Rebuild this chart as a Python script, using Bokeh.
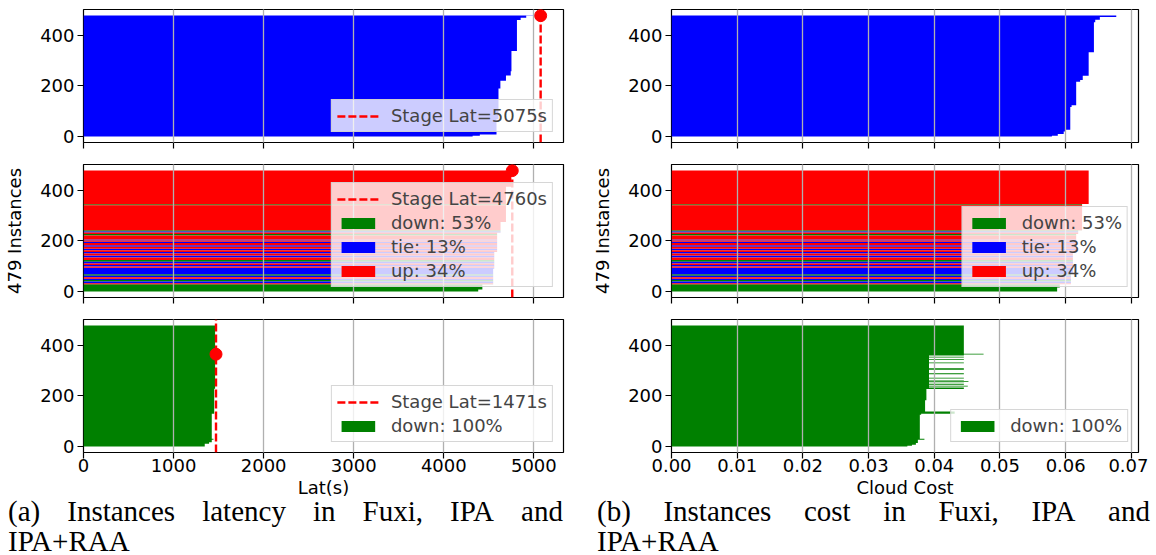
import numpy as np
from bokeh.plotting import figure
from bokeh.models import (Range1d, Legend, LegendItem, FixedTicker,
                          NumeralTickFormatter, Div)
from bokeh.layouts import column, row
from bokeh.embed import file_html
from bokeh.resources import INLINE

N_INST = 479

# ---------------- data (runs from instance 0 upwards) ----------------
fuxi_lat_counts = [3, 5, 60, 122, 31, 20, 17, 80, 123, 9, 8, 1]
fuxi_lat_values = [4320, 4400, 4585, 4607, 4628, 4690, 4743, 4751, 4812, 4853, 4915, 5075]

ipa_lat_counts = [8, 20, 62, 66, 77, 42, 140, 63, 1]
ipa_lat_values = [4382, 4428, 4548, 4560, 4592, 4630, 4690, 4750, 4760]

raa_lat_counts = [11, 6, 10, 4, 99, 99, 136, 1, 113]
raa_lat_values = [1346, 1394, 1424, 1443, 1424, 1451, 1461, 1471, 1461]

fuxi_cost_counts = [3, 7, 10, 7, 90, 7, 93, 7, 16, 94, 118, 10, 11, 6]
fuxi_cost_values = [0.0579, 0.0588, 0.0597, 0.0600, 0.0607, 0.0609, 0.0616, 0.0622,
                    0.0626, 0.0635, 0.0643, 0.0645, 0.0652, 0.0677]

ipa_cost_counts = [16, 13, 40, 86, 73, 13, 105, 133]
ipa_cost_values = [0.0587, 0.0591, 0.0608, 0.0611, 0.0616, 0.0619, 0.0625, 0.0635]

raa_cost_counts = [3, 4, 7, 13, 4, 95, 4, 9, 44, 45,
                   6, 4, 2, 3, 3, 4, 2, 4, 3, 2, 8, 3, 14, 4, 14, 6, 20, 3, 10, 3, 6, 3, 5, 4,
                   3, 112]
raa_cost_values = [0.0359, 0.0366, 0.0372, 0.0375, 0.0385, 0.0378, 0.0380, 0.0431, 0.0386, 0.0388,
                   0.0445, 0.0392, 0.0451, 0.0392, 0.0445, 0.0392, 0.0445, 0.0392, 0.0452, 0.0445,
                   0.0392, 0.0445, 0.0392, 0.0445, 0.0392, 0.0445, 0.0392, 0.0445, 0.0392, 0.0445,
                   0.0392, 0.0445, 0.0392, 0.0445,
                   0.0475, 0.0445]

# category of each instance under IPA (compared with Fuxi), runs from instance 0 upwards
ipa_cat_labels = ["down", "up", "tie", "down", "tie", "up", "tie", "down", "tie", "up",
                  "tie", "up", "tie", "down", "up", "tie", "up", "tie", "up", "tie",
                  "up", "tie", "up", "tie", "up", "tie", "up", "down", "up", "tie",
                  "down", "up", "down", "up"]
ipa_cat_counts = [29, 4, 7, 5, 5, 6, 6, 6, 26, 5,
                  6, 6, 7, 7, 10, 7, 8, 6, 7, 6,
                  8, 6, 9, 5, 5, 4, 16, 6, 6, 4,
                  4, 99, 4, 134]

cat_names = ["down", "tie", "up"]
cat_colors = {"down": "#008000", "tie": "#0000ff", "up": "#ff0000"}
ipa_legend = {"down": "down: 53%", "tie": "tie: 13%", "up": "up: 34%"}
raa_legend = {"down": "down: 100%"}

stage_lat = [5075, 4760, 1471]
stage_idx = [478, 478, 365]

lat_ticks = [0, 1000, 2000, 3000, 4000, 5000]
cost_ticks = [0.00, 0.01, 0.02, 0.03, 0.04, 0.05, 0.06, 0.07]
y_ticks = [0, 200, 400]

# --------------------------------------------------------------------------------------------
FONT = "DejaVu Sans"
FS = "18px"
Y0, Y1 = -24.3, 502.3


def expand(counts, values):
    return np.repeat(np.asarray(values, dtype=float), counts)


def staircase(vals, cats, which):
    xs, ys = [], []
    n = len(vals)
    i = 0
    while i < n:
        j = i
        while j + 1 < n and cats[j + 1] == cats[i]:
            j += 1
        if cats[i] == which:
            px, py = [0.0], [i - 0.5]
            for k in range(i, j + 1):
                px += [vals[k], vals[k]]
                py += [k - 0.5, k + 0.5]
            px.append(0.0)
            py.append(j + 0.5)
            xs.append(px)
            ys.append(py)
        i = j + 1
    return xs, ys


def panel(xmax, xticks, cost, pos, xlabel=None, ylabel=None):
    fw = 467 if cost else 480
    top = 9 if pos == 0 else 0
    bottom = 52 if pos == 2 else 22
    p = figure(frame_width=fw, frame_height=133,
               x_range=Range1d(0, xmax), y_range=Range1d(Y0, Y1),
               output_backend="svg", toolbar_location=None,
               min_border_left=83, min_border_right=10 if cost else 25,
               min_border_top=top, min_border_bottom=bottom)
    p.background_fill_color = "white"
    p.border_fill_color = "white"
    p.outline_line_color = "black"
    p.outline_line_width = 1.2
    p.outline_line_alpha = 1.0
    p.ygrid.visible = False
    p.xgrid.grid_line_color = "#b0b0b0"
    p.xgrid.grid_line_width = 1.3
    p.xgrid.level = "guide"
    p.xaxis.ticker = FixedTicker(ticks=xticks)
    p.yaxis.ticker = FixedTicker(ticks=y_ticks)
    if cost:
        p.xaxis.formatter = NumeralTickFormatter(format="0.00")
    for ax in (p.xaxis[0], p.yaxis[0]):
        ax.axis_line_color = None
        ax.major_tick_in = 0
        ax.major_tick_out = 6
        ax.major_tick_line_width = 1.2
        ax.minor_tick_line_color = None
        ax.major_label_text_font = FONT
        ax.major_label_text_font_size = FS
        ax.major_label_text_color = "black"
        ax.axis_label_text_font = FONT
        ax.axis_label_text_font_size = FS
        ax.axis_label_text_font_style = "normal"
        ax.axis_label_text_color = "black"
    p.yaxis.major_label_standoff = 3
    p.xaxis.major_label_standoff = 0
    if pos != 2:
        p.xaxis.major_label_text_font_size = "0px"
        p.xaxis.major_label_text_color = None
    if xlabel:
        p.xaxis.axis_label = xlabel
        p.xaxis.axis_label_standoff = 2
    if ylabel:
        p.yaxis.axis_label = ylabel
        p.yaxis.axis_label_standoff = 12
    return p


def draw(p, vals, cats, legend_map, stage=None):
    items = []
    rends = {}
    for c in cat_names:
        xs, ys = staircase(vals, cats, c)
        if xs:
            rends[c] = p.patches(xs=xs, ys=ys, fill_color=cat_colors[c], line_color=None)
    if stage is not None:
        lat, idx = stage
        seg = p.segment(x0=[lat], x1=[lat], y0=[Y0], y1=[Y1], line_color="red",
                        line_width=2.4, line_dash="8 3")
        p.scatter(x=[lat], y=[idx], size=12, color="red")
        items.append(LegendItem(label="Stage Lat=%ds" % lat, renderers=[seg]))
    if legend_map:
        for c in cat_names:
            if c in legend_map and c in rends:
                items.append(LegendItem(label=legend_map[c], renderers=[rends[c]]))
    if items:
        leg = Legend(items=items, location="bottom_right",
                     label_text_font=FONT, label_text_font_size=FS,
                     glyph_width=42, glyph_height=14, label_height=20,
                     spacing=3, padding=5, margin=10, label_standoff=12,
                     background_fill_color="white", background_fill_alpha=0.8,
                     border_line_color="#cccccc", border_line_alpha=0.8,
                     border_line_width=1.2)
        p.add_layout(leg)


ipa_cats = list(np.repeat(ipa_cat_labels, ipa_cat_counts))
all_down = ["down"] * N_INST
all_tie = ["tie"] * N_INST

LAT_MAX = max(stage_lat) * 1.05
COST_MAX = max(fuxi_cost_values) * 1.05

# left column: latency
pL1 = panel(LAT_MAX, lat_ticks, False, 0)
draw(pL1, expand(fuxi_lat_counts, fuxi_lat_values), all_tie, None, (stage_lat[0], stage_idx[0]))
pL2 = panel(LAT_MAX, lat_ticks, False, 1, ylabel="479 Instances")
draw(pL2, expand(ipa_lat_counts, ipa_lat_values), ipa_cats, ipa_legend, (stage_lat[1], stage_idx[1]))
pL3 = panel(LAT_MAX, lat_ticks, False, 2, xlabel="Lat(s)")
draw(pL3, expand(raa_lat_counts, raa_lat_values), all_down, raa_legend, (stage_lat[2], stage_idx[2]))

# right column: cost
pR1 = panel(COST_MAX, cost_ticks, True, 0)
draw(pR1, expand(fuxi_cost_counts, fuxi_cost_values), all_tie, None)
pR2 = panel(COST_MAX, cost_ticks, True, 1, ylabel="479 Instances")
draw(pR2, expand(ipa_cost_counts, ipa_cost_values), ipa_cats, ipa_legend)
pR3 = panel(COST_MAX, cost_ticks, True, 2, xlabel="Cloud Cost")
draw(pR3, expand(raa_cost_counts, raa_cost_values), all_down, raa_legend)

CAP = "font-family:'Liberation Serif',serif;font-size:29px;line-height:30px;color:black;"


def caption(first, second, width, left):
    words = "".join("<span>%s</span>" % w for w in first.split(" "))
    return ('<div style="margin-top:-8px;margin-left:%dpx;width:%dpx;%s">'
            '<div style="display:flex;justify-content:space-between;white-space:nowrap;">%s</div>'
            '<div>%s</div></div>') % (left, width, CAP, words, second)


divL = Div(text=caption("(a) Instances latency in Fuxi, IPA and", "IPA+RAA", 555, 8),
           width=588, height=51, margin=(0, 0, 0, 0))
divR = Div(text=caption("(b) Instances cost in Fuxi, IPA and", "IPA+RAA", 553, 9),
           width=562, height=51, margin=(0, 0, 0, 0))

layout = row(column(pL1, pL2, pL3, divL), column(pR1, pR2, pR3, divR))

open("out.html", "w").write(file_html(layout, INLINE))
